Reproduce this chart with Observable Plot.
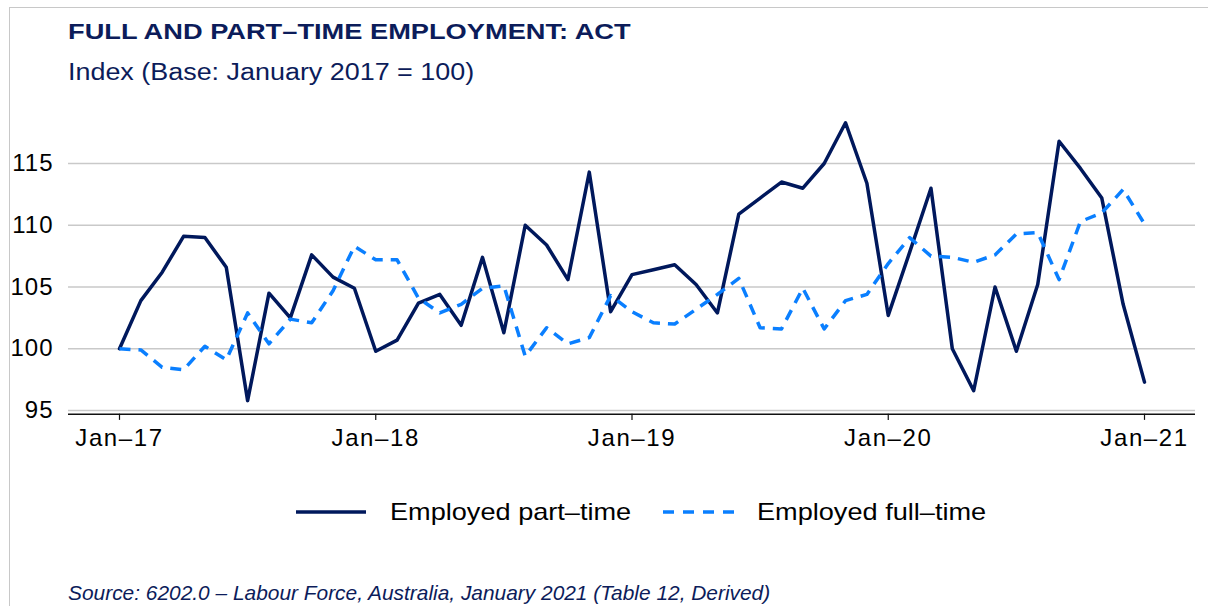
<!DOCTYPE html>
<html><head><meta charset="utf-8">
<script src="https://cdn.jsdelivr.net/npm/d3@7"></script>
<script src="https://cdn.jsdelivr.net/npm/@observablehq/plot@0.6"></script>
<style>
body{margin:0;background:#fff;font-family:"Liberation Sans",Arial,sans-serif;width:1208px;height:606px;overflow:hidden;position:relative}
.frame{position:absolute;left:9px;top:7px;width:1400px;height:800px;border-left:1.5px solid #c8c8c8;border-top:1.5px solid #c8c8c8}
.t{position:absolute;white-space:nowrap;line-height:1;transform-origin:0 0}
#title{left:68px;top:21px;font-size:22.5px;font-weight:bold;color:#0c1c5a;transform:scaleX(1.21)}
#subtitle{left:68px;top:61px;font-size:23px;color:#0c1c5a;transform:scaleX(1.17)}
#chart{position:absolute;left:0;top:90px}
.lt{font-size:24px;color:#000;transform:scaleX(1.13);top:500px}
.sw{position:absolute;top:502px}
#caption{left:68px;top:583px;font-size:20.9px;font-style:italic;color:#0c1c5a}
svg g[aria-label="x-axis tick label"] text{letter-spacing:1.6px}
svg g[aria-label="y-axis tick label"] text{letter-spacing:1px}
</style>
</head><body>
<div class="frame"></div>
<div class="t" id="title">FULL AND PART–TIME EMPLOYMENT: ACT</div>
<div class="t" id="subtitle">Index (Base: January 2017 = 100)</div>
<div id="chart"></div>
<svg class="sw" style="left:296px" width="72" height="20"><line x1="0" x2="70" y1="10" y2="10" stroke="#00185c" stroke-width="3.5"/></svg>
<div class="t lt" style="left:390px">Employed part–time</div>
<svg class="sw" style="left:663px" width="74" height="20"><line x1="0" x2="72" y1="10" y2="10" stroke="#0a7fff" stroke-width="3.5" stroke-dasharray="11,9"/></svg>
<div class="t lt" style="left:757px">Employed full–time</div>
<div class="t" id="caption">Source: 6202.0 – Labour Force, Australia, January 2021 (Table 12, Derived)</div>
<script>
// Monthly categories Jan-2017 .. Jan-2021
const months = d3.utcMonth.range(new Date(Date.UTC(2017,0,1)), new Date(Date.UTC(2021,0,2))).map(d3.utcFormat("%b-%y"));
const partTime = [
  100.0,103.9,106.2,109.1,109.0,106.6,95.8,104.5,102.5,107.6,105.8,104.9,
  99.8,100.7,103.7,104.4,101.9,107.4,101.3,110.0,108.4,105.6,114.3,103.0,
  106.0,106.4,106.8,105.2,102.9,110.9,112.2,113.5,113.0,115.0,118.3,113.4,
  102.7,107.8,113.0,100.0,96.6,105.0,99.8,105.2,116.8,114.6,112.2,103.6,
  97.3
];
const fullTime = [
  100.0,99.9,98.5,98.3,100.2,99.1,102.9,100.4,102.4,102.1,104.7,108.3,
  107.2,107.2,104.1,102.9,103.6,104.9,105.1,99.4,101.7,100.4,100.9,104.3,
  103.0,102.1,102.0,103.2,104.4,105.7,101.7,101.6,104.9,101.6,103.9,104.4,
  106.9,109.0,107.5,107.4,107.0,107.6,109.3,109.4,105.6,110.3,111.0,112.9,
  110.1
];
const yTicks = [95,100,105,110,115];
const xTickIdx = [0,12,24,36,48];
const xTickLabels = ["Jan–17","Jan–18","Jan–19","Jan–20","Jan–21"];
const seriesNames = ["Employed part–time","Employed full–time"];

const pt = months.map((m,i)=>({i, month:m, v:partTime[i], series:seriesNames[0]}));
const ft = months.map((m,i)=>({i, month:m, v:fullTime[i], series:seriesNames[1]}));
const navy = "#00185c", blue = "#0a7fff";

const chart = Plot.plot({
  width:1208, height:370,
  marginLeft:68, marginRight:13, marginTop:73, marginBottom:50,
  x:{domain:[-2.388, 50.388]},
  y:{domain:[95,115]},
  style:{fontFamily:'"Liberation Sans", Arial, sans-serif', fontSize:"24px", color:"#000", background:"transparent", overflow:"visible"},
  marks:[
    Plot.ruleY(yTicks,{stroke:"#c9c9c9", strokeWidth:1.5}),
    Plot.ruleY([94.7],{stroke:"#111", strokeWidth:1.5}),
    Plot.ruleX(xTickIdx,{y1:94.7, y2:94.2, stroke:"#111", strokeWidth:1.2}),
    Plot.axisY({ticks:yTicks, tickSize:0, tickPadding:15, fontSize:24, label:null}),
    Plot.axisX({ticks:xTickIdx, tickFormat:d=>xTickLabels[xTickIdx.indexOf(d)], tickSize:0, tickPadding:18, fontSize:24, label:null}),
    Plot.line(pt,{x:"i", y:"v", stroke:navy, strokeWidth:3.5, strokeLinejoin:"round"}),
    Plot.line(ft,{x:"i", y:"v", stroke:blue, strokeWidth:3.5, strokeDasharray:"11,8", strokeLinecap:"butt", strokeLinejoin:"round"})
  ]
});
document.getElementById("chart").appendChild(chart);
</script>
</body></html>
